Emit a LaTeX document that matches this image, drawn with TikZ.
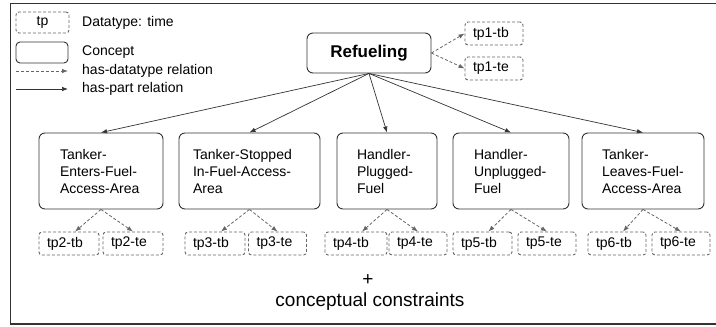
\documentclass[tikz,border=0pt]{standalone}
\usepackage{fontspec}
\setmainfont{Liberation Sans}
\usetikzlibrary{arrows.meta}
\definecolor{edge}{HTML}{333333}
\definecolor{dgray}{HTML}{666666}
\begin{document}
\begin{tikzpicture}[x=1pt,y=-1pt,
  txt/.style={font=\fontsize{14}{17}\selectfont, text=black},
  concept/.style={draw=edge, line width=0.9pt, rounded corners=6pt, minimum height=76pt,
     align=left, inner ysep=0pt, font=\fontsize{14}{17}\selectfont},
  datatype/.style={draw=dgray, line width=0.9pt, dash pattern=on 3pt off 2pt, rounded corners=3pt,
     minimum height=23pt, minimum width=58pt, inner xsep=8pt, inner ysep=0pt,
     font=\fontsize{14}{17}\selectfont},
  partrel/.style={draw=edge, line width=0.7pt, -{Latex[length=6pt,width=4.5pt]}},
  dtrel/.style={draw=dgray, line width=0.8pt, dash pattern=on 3pt off 2pt, -{Latex[length=6pt,width=4.5pt]}}
]
\useasboundingbox (0,0) rectangle (716,327);
\draw[edge, line width=1.4pt] (716,3.5) -- (10.5,3.5) -- (10.5,324) -- (716,324);

% legend
\node[datatype, minimum width=53pt, minimum height=21pt, inner xsep=0pt] (lgtp) at (42.5,22.5) {tp};
\node[draw=edge, line width=0.9pt, rounded corners=4pt, minimum width=52pt, minimum height=21pt] (lgc) at (42,52.5) {};
\node[txt, anchor=west, inner sep=0pt] (lgtpt) at (82,22.5) {Datatype: time};
\node[txt, anchor=west, inner sep=0pt] (lgct) at (82,52.5) {Concept};
\node[txt, anchor=west, inner sep=0pt] (lgdt) at (82,71) {has-datatype relation};
\node[txt, anchor=west, inner sep=0pt] (lgpt) at (82,89) {has-part relation};
\coordinate (d1) at (16,71);
\coordinate (d2) at (68,71);
\coordinate (p1) at (16,89);
\coordinate (p2) at (68,89);
\draw[dtrel] (d1) -- (d2);
\draw[partrel] (p1) -- (p2);

% root
\node[draw=edge, line width=0.9pt, rounded corners=6pt, minimum width=124pt, minimum height=40pt,
      font=\fontsize{17}{20}\selectfont\bfseries] (ref) at (369,53) {Refueling};
\node[datatype, text width=42pt] (t1b) at (494,33.5) {tp1-tb};
\node[datatype, text width=42pt] (t1e) at (494,68.5) {tp1-te};
\draw[dtrel] (ref.east) -- (t1b.west);
\draw[dtrel] (ref.east) -- (t1e.west);

% concepts
\node[concept, text width=82pt, inner xsep=21pt] (c1) at (101,171) {Tanker-\\Enters-Fuel-\\Access-Area};
\node[concept, text width=113pt, inner xsep=14pt] (c2) at (249.5,171) {Tanker-Stopped\\In-Fuel-Access-\\Area};
\node[concept, text width=60pt, inner xsep=20pt] (c3) at (387,171) {Handler-\\Plugged-\\Fuel};
\node[concept, text width=74pt, inner xsep=21pt] (c4) at (511,171) {Handler-\\Unplugged-\\Fuel};
\node[concept, text width=82pt, inner xsep=20pt] (c5) at (643,171) {Tanker-\\Leaves-Fuel-\\Access-Area};

\foreach \c in {c1,c2,c3,c4,c5} \draw[partrel] (ref.south) -- (\c.north);

% datatypes
\node[datatype, text width=44pt] (t2b) at (69,243.5) {tp2-tb};
\node[datatype, text width=44pt] (t2e) at (133,243.5) {tp2-te};
\node[datatype, text width=44pt] (t3b) at (215,243.5) {tp3-tb};
\node[datatype, text width=42pt] (t3e) at (277.5,243.5) {tp3-te};
\node[datatype, text width=46pt] (t4b) at (356,243.5) {tp4-tb};
\node[datatype, text width=42pt] (t4e) at (418,243.5) {tp4-te};
\node[datatype, text width=43pt] (t5b) at (482.5,243.5) {tp5-tb};
\node[datatype, text width=42pt] (t5e) at (547,243.5) {tp5-te};
\node[datatype, text width=42pt] (t6b) at (617,243.5) {tp6-tb};
\node[datatype, text width=42pt] (t6e) at (681,243.5) {tp6-te};

\foreach \c/\b/\e in {c1/t2b/t2e,c2/t3b/t3e,c3/t4b/t4e,c4/t5b/t5e,c5/t6b/t6e}{
  \draw[dtrel] (\c.south) -- ([xshift=6pt]\b.north);
  \draw[dtrel] (\c.south) -- (\e.north);
}

\node[font=\fontsize{19}{22}\selectfont, inner sep=0pt] (plus) at (368,280) {+};
\node[font=\fontsize{19}{22}\selectfont, inner sep=0pt] (cc) at (370,302) {conceptual constraints};
\end{tikzpicture}
\end{document}
